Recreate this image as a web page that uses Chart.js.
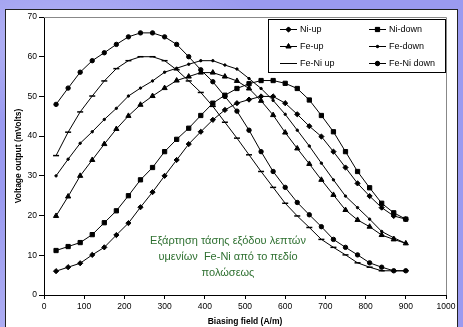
<!DOCTYPE html>
<html>
<head>
<meta charset="utf-8">
<script src="https://cdn.jsdelivr.net/npm/chart.js@4/dist/chart.umd.min.js"></script>
<style>
  html, body { margin: 0; padding: 0; }
  body {
    width: 463px; height: 327px; overflow: hidden; position: relative;
    background: #9a9af0;
    background-image:
      radial-gradient(ellipse 300px 120px at 60px 40px, rgba(255,255,255,0.25), rgba(255,255,255,0) 70%),
      radial-gradient(ellipse 200px 200px at 20px 330px, rgba(255,255,255,0.2), rgba(255,255,255,0) 70%);
  }
  #box {
    position: absolute; left: 5px; top: 9px; width: 453px; height: 330px;
    background: #fff; border: 1px solid #222; box-sizing: border-box;
  }
  #wrap { position: absolute; left: 0; top: 0; width: 463px; height: 327px; }
</style>
</head>
<body>
<div id="box"></div>
<div id="wrap"><canvas id="chart"></canvas></div>
<script>
var fieldValues = [30, 60, 90, 120, 150, 180, 210, 240, 270, 300, 330, 360, 390, 420, 450,
                   480, 510, 540, 570, 600, 630, 660, 690, 720, 750, 780, 810, 840, 870, 900];

var niUp = [6, 7, 8, 10.1, 12, 15.1, 18.1, 22.1, 25.9, 30, 34, 38, 41.1, 44.1, 46.6,
            48.3, 49.2, 50, 50, 48.3, 45.5, 42.5, 39.9, 36.1, 32.1, 28.1, 24.9, 22, 19.9, 19.1];
var niDown = [11.2, 12.2, 13.2, 15.2, 18.2, 21.2, 25, 29, 32.1, 36.1, 39.2, 42, 45.2, 48.3, 50.3,
              52, 53.2, 54, 54, 53.3, 52, 49.1, 45.2, 41.1, 36.1, 31.1, 27, 23.1, 20.7, 19.1];
var feUp = [19.9, 24.8, 30, 34, 38, 41.8, 45.1, 47.9, 50.1, 52.1, 54, 55, 56, 56, 55,
            53.9, 52, 48.9, 45.3, 40.9, 36.9, 33, 29, 25.2, 21.4, 18.9, 17.2, 15.1, 14, 13];
var feDown = [30, 34.2, 38.2, 41.1, 44.2, 47, 50.1, 52.1, 53.9, 56.1, 57.1, 58.1, 59, 59, 57.9,
              56.9, 54.5, 52, 49, 45.5, 41.5, 37.5, 33.2, 29, 24.9, 22, 19.1, 16, 14.4, 13];
var feNiUp = [35.1, 41, 46.1, 50.1, 53.9, 57, 59, 60, 60, 59, 56.7, 53.9, 51, 47.5, 43.5,
              39.5, 35.3, 31.1, 27.1, 23.1, 19.9, 17, 14, 12, 10.1, 8.1, 7, 6.1, 6.1, 6.1];
var feNiDown = [48, 52.1, 56.1, 59, 61, 63.1, 65, 66, 66, 65, 63.1, 60, 56.7, 53.7, 50,
                46.3, 41.5, 36.1, 31.1, 27.1, 23.3, 20.2, 17.2, 14, 12, 10.1, 8.1, 7, 6.1, 6.1];

var seriesNames = ['Ni-up', 'Ni-down', 'Fe-up', 'Fe-down', 'Fe-Ni up', 'Fe-Ni down'];
var seriesValues = [niUp, niDown, feUp, feDown, feNiUp, feNiDown];
var markerStyles = ['rectRot', 'rect', 'triangle', 'circle', 'line', 'circle'];
var markerSizes = [2.6, 3, 3, 1.2, 3, 2.2];

var noteLines = ['Εξάρτηση τάσης εξόδου λεπτών', 'υμενίων  Fe-Ni από το πεδίο', 'πολώσεως'];

function toPoints(vals) {
    return vals.map(function(v, i) { return { x: fieldValues[i], y: v }; });
}

var datasets = seriesValues.map(function(vals, i) {
    return {
        label: seriesNames[i],
        data: toPoints(vals),
        borderColor: '#000',
        backgroundColor: '#000',
        borderWidth: 1,
        pointStyle: markerStyles[i],
        pointRadius: markerSizes[i],
        pointBorderWidth: markerStyles[i] === 'line' ? 1.5 : 1,
        pointBackgroundColor: '#000',
        pointBorderColor: '#000',
        tension: 0
    };
});

// legend box inside the plot, two columns
var boxLegend = {
    id: 'boxLegend',
    afterDatasetsDraw: function(chart) {
        var ctx = chart.ctx;
        ctx.save();
        ctx.fillStyle = '#fff';
        ctx.fillRect(268, 19, 178, 54);
        ctx.strokeStyle = '#000';
        ctx.lineWidth = 1;
        ctx.strokeRect(268.5, 19.5, 177, 53);
        ctx.font = '9px "Liberation Sans", Arial, sans-serif';
        ctx.textBaseline = 'middle';
        ctx.fillStyle = '#000';
        chart.data.datasets.forEach(function(ds, i) {
            var col = i % 2, row = Math.floor(i / 2);
            var x0 = col === 0 ? 280 : 369;
            var y = 29 + row * 17;
            ctx.beginPath();
            ctx.moveTo(x0, y + 0.5);
            ctx.lineTo(x0 + 17, y + 0.5);
            ctx.lineWidth = 1;
            ctx.strokeStyle = '#000';
            ctx.stroke();
            Chart.helpers.drawPoint(ctx, {
                pointStyle: ds.pointStyle,
                radius: ds.pointRadius,
                rotation: 0,
                borderWidth: ds.pointBorderWidth
            }, x0 + 8.5, y + 0.5);
            ctx.fill();
            ctx.fillText(ds.label, x0 + 20, y + 1);
        });
        ctx.restore();
    }
};

// plot frame (grey top/right) and the green note
var frameAndNote = {
    id: 'frameAndNote',
    beforeDatasetsDraw: function(chart) {
        var a = chart.chartArea, ctx = chart.ctx;
        ctx.save();
        ctx.strokeStyle = '#888';
        ctx.lineWidth = 1;
        ctx.beginPath();
        ctx.moveTo(a.left, a.top + 0.5);
        ctx.lineTo(a.right + 0.5, a.top + 0.5);
        ctx.lineTo(a.right + 0.5, a.bottom);
        ctx.stroke();
        ctx.fillStyle = '#2e7030';
        ctx.font = '11px "Liberation Sans", Arial, sans-serif';
        ctx.textAlign = 'center';
        ctx.textBaseline = 'middle';
        var cx = 228;
        noteLines.forEach(function(t, i) {
            ctx.fillText(t, cx, 241 + i * 16);
        });
        ctx.restore();
    }
};

new Chart(document.getElementById('chart'), {
    type: 'line',
    data: { datasets: datasets },
    options: {
        responsive: true,
        maintainAspectRatio: false,
        animation: false,
        layout: { padding: { left: 0, top: 17, right: 17, bottom: 0 } },
        plugins: {
            legend: { display: false },
            tooltip: { enabled: false }
        },
        scales: {
            x: {
                type: 'linear',
                min: 0,
                max: 1000,
                afterFit: function(scale) { scale.height = 32; },
                ticks: {
                    stepSize: 100,
                    color: '#000',
                    padding: 3,
                    maxRotation: 0,
                    font: { family: '"Liberation Sans", Arial', size: 8.5 },
                    callback: function(value) { return String(value); }
                },
                grid: { drawOnChartArea: false, tickLength: 4, color: '#000' },
                border: { color: '#000', width: 1 },
                title: {
                    display: true,
                    text: 'Biasing field (A/m)',
                    color: '#000',
                    padding: { top: 0, bottom: 0 },
                    font: { family: '"Liberation Sans", Arial', size: 8.5, weight: 'bold' }
                }
            },
            y: {
                min: 0,
                max: 70,
                afterFit: function(scale) { scale.width = 44; },
                ticks: {
                    stepSize: 10,
                    color: '#000',
                    padding: 2,
                    font: { family: '"Liberation Sans", Arial', size: 8.5 }
                },
                grid: { drawOnChartArea: false, tickLength: 5, color: '#000' },
                border: { color: '#000', width: 1 },
                title: {
                    display: true,
                    text: 'Voltage output (mVolts)',
                    color: '#000',
                    padding: { top: 14, bottom: 0 },
                    font: { family: '"Liberation Sans", Arial', size: 8.5, weight: 'bold' }
                }
            }
        }
    },
    plugins: [frameAndNote, boxLegend]
});
</script>
</body>
</html>
